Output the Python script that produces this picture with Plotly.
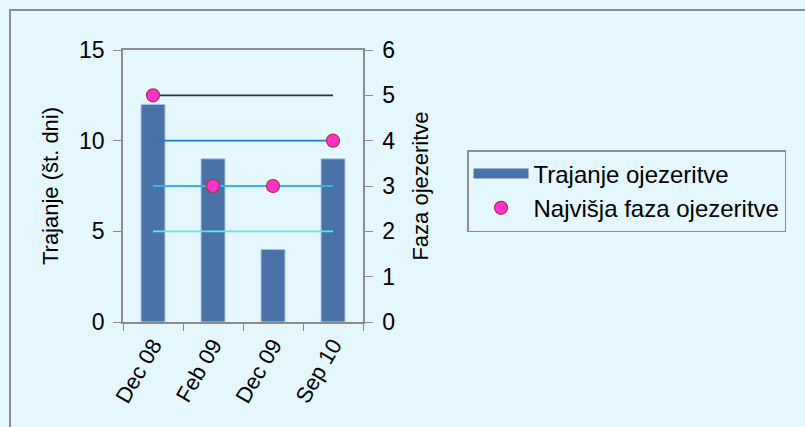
import plotly.graph_objects as go

categories = ["Dec 08", "Feb 09", "Dec 09", "Sep 10"]
trajanje = [12, 9, 4, 9]
faza = [5, 3, 3, 4]
phase_levels = [5, 4, 3, 2]
phase_colors = ["#1F3456", "#2378C8", "#33B5E8", "#5CE8F2"]

BG = "#E4F6FE"
BAR = "#4A72A6"
FONT = "Liberation Sans, Arial, sans-serif"

fig = go.Figure()
fig.add_trace(go.Bar(
    x=categories, y=trajanje, name="Trajanje ojezeritve",
    marker=dict(color=BAR, line=dict(color="#A9C8E8", width=1)),
    width=0.4, yaxis="y", showlegend=False,
))
# legend entry with wide rectangle symbol
fig.add_trace(go.Scatter(
    x=[None], y=[None], mode="lines", name="Trajanje ojezeritve",
    line=dict(color=BAR, width=13), yaxis="y",
))
for lvl, col in zip(phase_levels, phase_colors):
    fig.add_trace(go.Scatter(
        x=[categories[0], categories[-1]], y=[lvl, lvl], mode="lines",
        line=dict(color=col, width=1.8), yaxis="y2", showlegend=False,
        hoverinfo="skip",
    ))
fig.add_trace(go.Scatter(
    x=categories, y=faza, mode="markers", name="Najvišja faza ojezeritve",
    marker=dict(color="#FF33CC", size=13, line=dict(color="#B03040", width=1.2)),
    yaxis="y2",
))

L, R, T, B = 123, 363, 50, 322
W, H = 805, 427
pw, ph = R - L, B - T

def px(xp):
    return (xp - L) / pw

def py(yp):
    return (B - yp) / ph

fig.add_shape(type="rect", xref="paper", yref="paper",
              x0=px(10), x1=px(815), y0=py(437), y1=py(10),
              line=dict(color="#8C8C8C", width=2), layer="below")

fig.update_layout(
    width=W, height=H,
    margin=dict(l=L, r=W - R, t=T, b=H - B, pad=0, autoexpand=False),
    paper_bgcolor=BG, plot_bgcolor=BG,
    font=dict(family=FONT, size=23, color="#000000"),
    xaxis=dict(
        type="category", tickangle=-60, tickson="boundaries",
        ticks="outside", ticklen=7, tickcolor="#8C8C8C",
        showline=True, linecolor="#8C8C8C", linewidth=1.5, mirror=True,
        showgrid=False, tickfont=dict(size=22),
    ),
    yaxis=dict(
        range=[0, 15], tickvals=[0, 5, 10, 15], ticks="outside", ticklen=8,
        tickcolor="#8C8C8C", showline=True, linecolor="#8C8C8C", linewidth=1.5,
        showgrid=False, zeroline=False, ticklabelstandoff=4,
        title=dict(text="Trajanje (št. dni)", font=dict(size=22), standoff=14),
    ),
    yaxis2=dict(
        range=[0, 6], tickvals=[0, 1, 2, 3, 4, 5, 6], overlaying="y", side="right",
        ticks="outside", ticklen=8, tickcolor="#8C8C8C", showline=True,
        linecolor="#8C8C8C", linewidth=1.5, showgrid=False, zeroline=False,
        ticklabelstandoff=5,
        title=dict(text="Faza ojezeritve", font=dict(size=22), standoff=18),
    ),
    legend=dict(
        x=px(467), y=py(150), xanchor="left", yanchor="top",
        bgcolor=BG, bordercolor="#8C8C8C", borderwidth=1.5,
        font=dict(size=24), tracegroupgap=0, itemwidth=55,
    ),
)

fig.write_html("out.html", config={"displayModeBar": False},
               post_script="document.body.style.margin='0';")
